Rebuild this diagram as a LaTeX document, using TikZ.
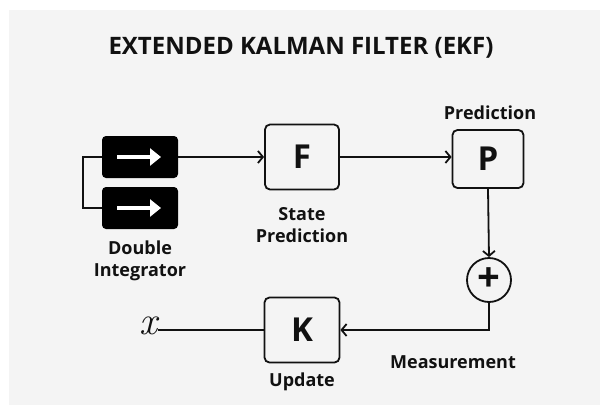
\documentclass[tikz,border=0pt]{standalone}
\usepackage{fontspec}
\setmainfont{Open Sans}
\newfontfamily\xfont{Latin Modern Roman}
\usetikzlibrary{arrows.meta}
\definecolor{panel}{HTML}{F4F4F4}
\definecolor{ink}{HTML}{111111}
\begin{document}
\begin{tikzpicture}[x=1pt,y=-1pt,
  blk/.style={draw=ink, line width=1.8pt, rounded corners=5pt, minimum width=74pt, minimum height=65pt, inner sep=0pt, text=ink, font=\fontsize{33}{33}\selectfont\bfseries},
  dblk/.style={fill=black, rounded corners=4pt, minimum width=76pt, minimum height=42pt, inner sep=0pt},
  warrow/.style={white, line width=4pt, -{Triangle[length=11pt,width=17pt]}},
  conn/.style={draw=ink, line width=1.8pt},
  arr/.style={conn, -{Straight Barb[length=5pt,width=12pt]}},
  lbl/.style={text=ink, font=\fontsize{18}{22}\selectfont\bfseries, align=center, inner sep=0pt},
]
\useasboundingbox (0,0) rectangle (603,405);
\fill[white] (0,0) rectangle (603,405);
\fill[panel] (9,10) rectangle (600,405);

\node[text=ink, font=\fontsize{24}{24}\selectfont\bfseries] (title) at (301,48) {EXTENDED KALMAN FILTER (EKF)};

% double integrator
\node[dblk] (D1) at (140,157) {};
\node[dblk] (D2) at (140,208) {};
\draw[warrow] (D1.center) ++(-23,0) -- ++(44,0);
\draw[warrow] (D2.center) ++(-23,0) -- ++(44,0);
\draw[conn] (D1.west) -- ++(-19,0) |- (D2.west);
\node[lbl] (dlbl) at (140,261) {Double\\Integrator};

% blocks
\node[blk] (F) at (302,157) {F};
\node[lbl] (flbl) at (302,225) {State\\Prediction};
\node[blk, minimum width=71pt, minimum height=58pt] (P) at (488,159) {P};
\node[lbl] (plbl) at (490,113) {Prediction};
\node[circle, draw=ink, line width=1.8pt, minimum size=44pt, inner sep=0pt] (S) at (489,280) {};
\node[text=ink, font=\fontsize{40}{40}\selectfont\bfseries, inner sep=0pt] (plus) at (S.center) {+};
\node[blk, minimum width=75pt, minimum height=65pt] (K) at (302,330) {K};
\node[lbl] (klbl) at (302,382) {Update};
\node[lbl] (mlbl) at (453,362) {Measurement};
\node[text=ink, inner sep=1pt, font=\fontsize{40}{40}\selectfont\xfont\itshape] (X) at (148,326) {x};

% connectors
\draw[arr] (D1.east) -- (F.west);
\draw[arr] (F.east) -- (F.east -| P.west);
\draw[arr] (P.south) -- (S.north);
\draw[arr] (S.south) |- (K.east);
\draw[conn] (K.west) -- (X.east |- K.west);
\end{tikzpicture}
\end{document}
